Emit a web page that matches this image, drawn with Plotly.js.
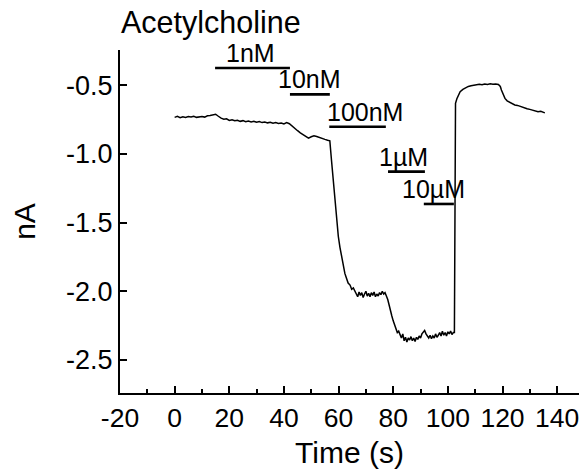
<!DOCTYPE html>
<html>
<head>
<meta charset="utf-8">
<script src="https://cdn.plot.ly/plotly-3.0.1.min.js"></script>
<style>
html,body{margin:0;padding:0;background:#fff;}
#chart{width:579px;height:469px;}
</style>
</head>
<body>
<div id="chart"></div>
<script>
// Time (s)
const timeS = [
0,1,2,3,4,5,6,7,8,9,10,11,12,13,14,15,16,17,18,19,20,21,22,23,24,25,26,27,28,29,
30,31,32,33,34,35,36,37,38,39,40,41,42,43,44,45,46,47,48,49,50,51,52,53,54,55,56,56.8,
57.4,58,58.7,59.3,59.9,60.5,61.1,61.7,62.3,62.9,63.5,64.2,64.8,65.4,66,
66.5,67,67.5,68,68.5,69,69.5,70,70.5,71,71.5,72,72.5,73,73.5,74,74.5,75,75.5,76,76.5,77,77.5,
78,78.5,79,79.5,80,80.5,81,81.5,82,82.5,83,83.5,84,84.5,85,85.5,86,86.5,87,87.5,88,88.5,89,89.5,
90,90.5,91,91.5,92,92.5,93,93.5,94,94.5,95,95.5,96,96.5,97,97.5,98,98.5,99,99.5,100,100.5,101,101.5,102,102.4,
102.6,102.8,103.3,103.8,104.5,105.5,106.5,107.5,108.5,109.5,110.5,111.5,112.5,113.5,114.5,115.5,116.5,117.5,118.5,
119.2,119.6,120.2,120.9,121.7,122.7,123.5,124.5,125.5,126.4,127,128,129,130,131,132,133,134,135,135.5
];
// Current (nA)
const currentNA = [
-0.735,-0.728,-0.738,-0.731,-0.736,-0.729,-0.733,-0.727,-0.735,-0.730,-0.728,-0.733,-0.724,-0.722,-0.716,-0.712,-0.727,-0.741,-0.748,-0.745,
-0.757,-0.752,-0.760,-0.756,-0.764,-0.759,-0.767,-0.762,-0.768,-0.764,-0.771,-0.766,-0.773,-0.769,-0.775,-0.771,-0.778,-0.773,-0.779,-0.776,
-0.783,-0.773,-0.781,-0.796,-0.815,-0.832,-0.848,-0.862,-0.878,-0.886,-0.876,-0.869,-0.874,-0.883,-0.889,-0.895,-0.901,-0.905,
-1.045,-1.19,-1.36,-1.49,-1.60,-1.68,-1.75,-1.815,-1.87,-1.905,-1.94,-1.955,-1.985,-1.975,-2.00,
-2.015,-2.04,-2.005,-2.03,-2.01,-2.045,-2.02,-2.00,-2.035,-2.015,-2.04,-2.01,-2.03,-2.005,-2.04,-2.02,-2.035,-2.01,-2.025,-2.0,-2.02,-2.01,-2.035,
-2.06,-2.10,-2.15,-2.18,-2.215,-2.25,-2.27,-2.30,-2.29,-2.32,-2.34,-2.31,-2.36,-2.335,-2.37,-2.34,-2.355,-2.33,-2.36,-2.34,-2.365,-2.335,-2.35,-2.325,
-2.34,-2.31,-2.295,-2.285,-2.31,-2.325,-2.34,-2.32,-2.345,-2.325,-2.34,-2.31,-2.335,-2.32,-2.30,-2.325,-2.29,-2.32,-2.30,-2.325,-2.295,-2.31,-2.29,-2.315,-2.30,-2.30,
-1.2,-0.633,-0.60,-0.573,-0.548,-0.531,-0.52,-0.51,-0.505,-0.50,-0.498,-0.494,-0.497,-0.492,-0.495,-0.491,-0.494,-0.492,-0.496,
-0.51,-0.536,-0.57,-0.597,-0.615,-0.628,-0.636,-0.645,-0.648,-0.655,-0.66,-0.664,-0.672,-0.677,-0.682,-0.686,-0.694,-0.691,-0.700,-0.702
];
// Application bars for each concentration
const concLabels = ['1nM', '10nM', '100nM', '1\u00b5M', '10\u00b5M'];
const concStart = [14.8, 42.2, 56.6, 78.1, 91.2];
const concEnd   = [42.2, 56.8, 77.3, 91.6, 102.2];
const concLevel = [-0.376, -0.568, -0.803, -1.13, -1.365];
const concLabelX = [27.9, 49.5, 69.6, 83.7, 94.9];

const xTickVals = [-20, 0, 20, 40, 60, 80, 100, 120, 140];
const xTickText = ['-20', '0', '20', '40', '60', '80', '100', '120', '140'];
const yTickVals = [-2.5, -2.0, -1.5, -1.0, -0.5];
const yTickText = ['-2.5', '-2.0', '-1.5', '-1.0', '-0.5'];

const FONT = 'Liberation Sans, Arial, sans-serif';

const shapes = concLabels.map((l, i) => ({
  type: 'line', xref: 'x', yref: 'y',
  x0: concStart[i], x1: concEnd[i], y0: concLevel[i], y1: concLevel[i],
  line: {color: '#000', width: 2.6}
}));
const annotations = concLabels.map((l, i) => ({
  xref: 'x', yref: 'y', x: concLabelX[i], y: concLevel[i],
  text: l, showarrow: false, xanchor: 'center', yanchor: 'bottom', yshift: 0, borderpad: 0,
  font: {family: FONT, size: 25, color: '#000'}
}));

const trace = {
  x: timeS, y: currentNA, type: 'scatter', mode: 'lines',
  line: {color: '#000', width: 1.5}, hoverinfo: 'skip'
};

const layout = {
  width: 579, height: 469,
  margin: {l: 120, r: 0, t: 50, b: 76},
  paper_bgcolor: '#fff', plot_bgcolor: '#fff',
  showlegend: false,
  font: {family: FONT, color: '#000'},
  title: {text: 'Acetylcholine', x: 121/579, xanchor: 'left', y: 1 - 12/469, yanchor: 'top',
          font: {family: FONT, size: 30.5, color: '#000'}},
  xaxis: {
    range: [-20, 148], showgrid: false, zeroline: false,
    showline: true, linecolor: '#000', linewidth: 2,
    ticks: 'inside', ticklen: 7, tickwidth: 2, tickcolor: '#000',
    tickmode: 'array', tickvals: xTickVals, ticktext: xTickText,
    ticklabeloverflow: 'allow',
    minor: {ticks: 'inside', ticklen: 4, tickwidth: 2, tickcolor: '#000', tickmode: 'linear', tick0: 0, dtick: 10},
    tickfont: {family: FONT, size: 26.5, color: '#000'},
    title: {text: 'Time (s)', font: {family: FONT, size: 30, color: '#000'}, standoff: 12},
    automargin: false, fixedrange: true
  },
  yaxis: {
    range: [-2.74, -0.245], showgrid: false, zeroline: false,
    showline: true, linecolor: '#000', linewidth: 2,
    ticks: 'inside', ticklen: 7, tickwidth: 2, tickcolor: '#000',
    tickmode: 'array', tickvals: yTickVals, ticktext: yTickText,
    tickfont: {family: FONT, size: 27, color: '#000'},
    title: {text: 'nA', font: {family: FONT, size: 30, color: '#000'}, standoff: 22},
    automargin: false, fixedrange: true
  },
  shapes: shapes,
  annotations: annotations
};

Plotly.newPlot('chart', [trace], layout, {staticPlot: true, displayModeBar: false});
</script>
</body>
</html>
